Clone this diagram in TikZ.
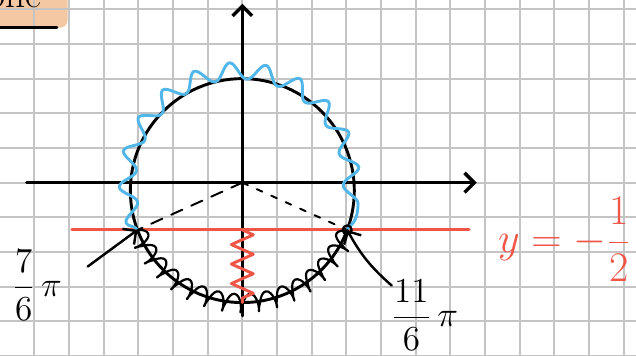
\documentclass[tikz,border=0pt]{standalone}
\usetikzlibrary{arrows.meta,decorations.pathmorphing}
\definecolor{penred}{RGB}{239,86,72}
\definecolor{penblue}{RGB}{82,183,232}
\definecolor{peach}{RGB}{245,200,164}
\definecolor{gridgray}{RGB}{196,196,196}

\begin{document}
\begin{tikzpicture}[x=0.5cm,y=0.5cm,line cap=round,line join=round,
  >={Straight Barb[length=4pt,width=8pt]},
  pen/.style={line width=1.2pt},
  lbl/.style={inner sep=0pt,font=\fontsize{14}{16}\selectfont}]
  \def\R{3.23}
  \def\Ay{20.55}
  \useasboundingbox (-6.99,-5) rectangle (11.355,5.268);
  \fill[peach,rounded corners=3pt] (-7.5,5.8) rectangle (-5.04,4.47);
  \draw[gridgray,line width=0.8pt,step=1] (-6.99,-5) grid (11.355,5.268);
  \draw[line width=1.3pt] (-7.2,4.485) -- (-5.35,4.485);
  \node[anchor=base east,font=\fontsize{16}{18}\selectfont] (head) at (-5.55,5.05) {one};
  \coordinate (O) at (0,0);
  \draw[line width=1.4pt,->] (-6.22,0) -- (6.76,0);
  \draw[line width=1.4pt,->] (0,-3.84) -- (0,5.16);
  \draw[penred,pen] (-4.92,-1.364) -- (6.54,-1.364);
  \coordinate (C) at (0,-0.23);
  \draw[pen] (C) circle (\R);
  \path (C) ++(180+\Ay:\R) coordinate (P7);
  \path (C) ++(-\Ay:\R) coordinate (P11);
  \path (C) ++(0,-\R) coordinate (B);
  \coordinate (Q) at (0,-1.364);
  \draw[line width=0.8pt,dash pattern=on 5pt off 4pt] (O) -- (P7);
  \draw[line width=0.8pt,dash pattern=on 2.5pt off 4pt] (O) -- (P11);
  \draw[penblue,pen,decorate,decoration={snake,amplitude=3.4pt,segment length=14pt}]
    (P7) arc[start angle=180+\Ay,end angle=-\Ay,radius=\R];
  \draw[line width=0.9pt,decorate,decoration={coil,amplitude=3.6pt,segment length=7pt,aspect=0.35}]
    (P7) arc[start angle=180+\Ay,end angle=360-\Ay,radius=\R];
  \draw[penred,pen,decorate,decoration={zigzag,amplitude=4.5pt,segment length=8pt}]
    (Q) -- (B);
  \draw[line width=0.9pt] (P11) circle (0.13);
  \node[lbl] (frac7) at (-5.92,-2.96) {$\displaystyle\frac{7}{6}\,\pi$};
  \node[lbl] (frac11) at (5.26,-3.82) {$\displaystyle\frac{11}{6}\,\pi$};
  \node[penred,inner sep=0pt,font=\fontsize{18}{21}\selectfont] (eqn) at (9.3,-1.64)
    {$y=-\displaystyle\frac{1}{2}$};
  \coordinate (a7) at (-4.46,-2.42);
  \draw[line width=1pt,->] (a7) -- (P7);
  \coordinate (a11) at (4.31,-2.97);
  \draw[line width=1pt,->] (a11) to[bend left=10] (P11);
\end{tikzpicture}
\end{document}
